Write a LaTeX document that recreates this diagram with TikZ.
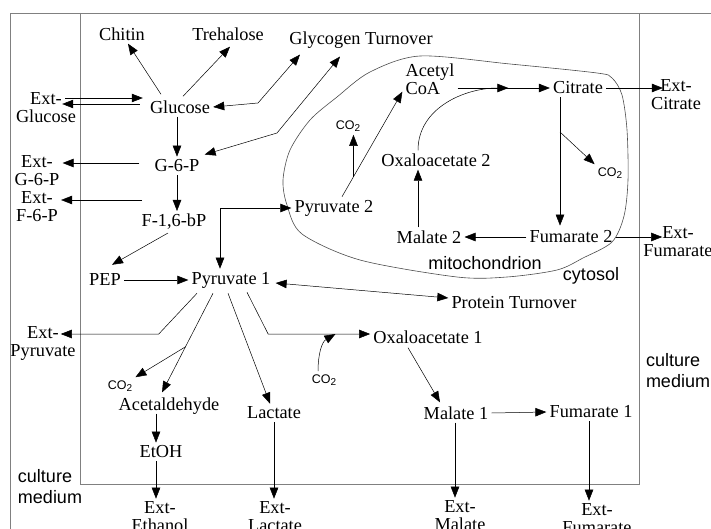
\documentclass[tikz,border=0pt]{standalone}
\usepackage{fontspec}
\setmainfont{Liberation Serif}
\newfontfamily\helv{Liberation Sans}
\usetikzlibrary{arrows.meta,calc}
\newcommand{\cotwo}{CO\raisebox{-0.35ex}{\fontsize{10}{10}\selectfont 2}}

\begin{document}
\begin{tikzpicture}[x=1pt, y=-1pt, >={Triangle[length=11pt,width=8.5pt]}, line width=0.5pt,
  every node/.style={font=\fontsize{18.3}{18}\selectfont, align=center, inner sep=3pt},
  sflbl/.style={font=\helv\fontsize{18}{21}\selectfont, align=left},
  gas/.style={font=\helv\fontsize{12.5}{13}\selectfont},
  frame/.style={draw=black!50, line width=0.9pt},
  memb/.style={draw=black!70, line width=0.6pt}]
  \useasboundingbox (0,0) rectangle (711,529);

  \draw[frame] (10,529) -- (10,13) -- (711,13);
  \draw[frame] (80,13) -- (80,484) -- (639,484) -- (639,13);
  \draw[memb] plot[smooth cycle, tension=0.5] coordinates {(283,180) (290,150) (310,120) (337,97)
    (370,72) (420,56) (510,64) (597,73) (612,78) (622,95) (627,130) (628,180) (624,216) (612,242)
    (583,258) (557,270) (507,277) (457,277) (360,260) (302,234) (287,205)};

  \node (chitin) at (122,34) {Chitin};
  \node (treh) at (228,34) {Trehalose};
  \node (glyc) at (361,40) {Glycogen Turnover};
  \node (eglc) at (46,108) {Ext-\\Glucose};
  \node (glc) at (180,107) {Glucose};
  \node (eg6p) at (37,171) {Ext-\\G-6-P};
  \node (g6p) at (177,166) {G-6-P};
  \node (ef6p) at (37,207) {Ext-\\F-6-P};
  \node (f16) at (174,222) {F-1,6-bP};
  \node (pep) at (105,280) {PEP};
  \node (pyr1) at (231,280) {Pyruvate 1};
  \node (pyr2) at (334,208) {Pyruvate 2};
  \node[align=left] (acoa) at (430,79) {Acetyl\\CoA};
  \node[gas] (co2a) at (348,126) {\cotwo};
  \node (oaa2) at (436,160) {Oxaloacetate 2};
  \node (cit) at (578,88) {Citrate};
  \node (ecit) at (676,95) {Ext-\\Citrate};
  \node[gas] (co2b) at (610,173) {\cotwo};
  \node (mal2) at (429,237) {Malate 2};
  \node (fum2) at (571,237) {Fumarate 2};
  \node (efum2) at (678,242) {Ext-\\Fumarate};
  \node[sflbl] (mito) at (485,263) {mitochondrion};
  \node[sflbl] (cyto) at (591,276) {cytosol};
  \node (prot) at (514,303) {Protein Turnover};
  \node (epyr) at (43,343) {Ext-\\Pyruvate};
  \node (oaa1) at (428,337) {Oxaloacetate 1};
  \node[gas] (co2c) at (324,380) {\cotwo};
  \node[sflbl] (cmr) at (678,371) {culture\\medium};
  \node[gas] (co2d) at (120,386) {\cotwo};
  \node (acet) at (169,406) {Acetaldehyde};
  \node (lact) at (274,413) {Lactate};
  \node (mal1) at (456,413) {Malate 1};
  \node (fum1) at (591,412) {Fumarate 1};
  \node (etoh) at (161,452) {EtOH};
  \node[sflbl] (cml) at (50,487) {culture\\medium};
  \node (eeth) at (160,517) {Ext-\\Ethanol};
  \node (elac) at (275,517) {Ext-\\Lactate};
  \node (emal) at (460,516) {Ext-\\Malate};
  \node (efum1) at (597,519) {Ext-\\Fumarate};

  \coordinate (gly1) at (258,103);
  \coordinate (gly2) at (277,133);
  \coordinate (f6p) at (142,200);

  \draw[->] ($(glc.north)+(-19,-3)$) -- ($(chitin.south)+(6,0)$);
  \draw[->] ($(glc.north)+(3,-1)$) -- ($(treh.south)+(2,3)$);
  \draw[<->] (glc.east) -- (gly1) -- ($(glyc.south)+(-61,3)$);
  \draw[<->] ($(g6p.north east)+(2,-2)$) -- (gly2) -- ($(glyc.south)+(-21,5)$);
  \draw[->] ($(eglc.east)+(-14,-10)$) -- ($(glc.west)+(-4,-9)$);
  \draw[->] ($(glc.west)+(-7,-3)$) -- ($(eglc.east)+(-17,-4)$);
  \draw[->] (g6p.north |- glc.south) -- (g6p.north);
  \draw[->] ($(g6p.west)+(-12,-3)$) -- ($(eg6p.east)+(0,-8)$);
  \draw[->] (f6p) -- (f6p -| ef6p.east);
  \draw[->] (g6p.south) -- (g6p.south |- f16.north);
  \draw[->] ($(f16.south)+(-6,0)$) -- ($(pep.north)+(7,-6)$);
  \draw[->] (pep.east) -- (pyr1.west);
  \draw[<->] ($(pyr1.north)+(-11,0)$) |- (pyr2.west);

  \draw[->] ($(pyr2.north)+(8,0)$) -- coordinate[pos=0.19] (pco) ($(acoa.south west)+(0,-6)$);
  \draw[->] (pco) -- (pco |- co2a.south);
  \draw[->] (acoa.east |- cit.west) -- coordinate[pos=0.55] (tca) (cit.west);
  \draw[->] ($(oaa2.north)+(-18,0)$) to[out=90, in=180] (tca);
  \draw[->] ($(mal2.north)+(-11,0)$) -- ($(oaa2.south)+(-18,0)$);
  \draw[->] ($(cit.south)+(-18,0)$) -- coordinate[pos=0.27] (cco) ($(fum2.north)+(-11,-2)$);
  \draw[->] (cco) -- (co2b.north west);
  \draw[->] (cit.east) -- ($(ecit.west)+(15,-7)$);
  \draw[->] (fum2.west) -- (mal2.east);
  \draw[->] (fum2.east) -- ($(efum2.west)+(22,-5)$);

  \draw[<->] ($(pyr1.east)+(2,3)$) -- ($(prot.west)+(0,-5)$);
  \draw[->] ($(pyr1.south)+(-34,2)$) -- ($(epyr.east)+(80,-9)$) -- ($(epyr.east)+(-18,-9)$);
  \draw[->] ($(pyr1.south)+(-18,2)$) -- coordinate[pos=0.54] (pac) ($(acet.north)+(-7,-2)$);
  \draw[->] (pac) -- (co2d.north east);
  \draw[->] ($(pyr1.south)+(-3,2)$) -- ($(lact.north)+(-4,0)$);
  \draw[->] ($(pyr1.south)+(16,1)$) -- ($(oaa1.west)+(-102,-3)$) -- coordinate[pos=0.66] (oin) ($(oaa1.west)+(0,-3)$);
  \draw[->] ($(co2c.north)+(-6,0)$) to[out=90, in=210] (oin);
  \draw[->] ($(oaa1.south)+(-20,1)$) -- ($(mal1.north)+(-16,-1)$);
  \draw[->] (mal1.east) -- (fum1.west);
  \draw[->] ($(acet.south)+(-13,-4)$) -- ($(etoh.north)+(-5,0)$);
  \draw[->] ($(etoh.south)+(-5,0)$) -- ($(eeth.north)+(-4,0)$);
  \draw[->] (lact.south) -- ($(elac.north)+(-1,0)$);
  \draw[->] ($(mal1.south)+(-1,0)$) -- ($(emal.north)+(-5,0)$);
  \draw[->] ($(fum1.south)+(-2,0)$) -- ($(efum1.north)+(-8,0)$);
\end{tikzpicture}
\end{document}
